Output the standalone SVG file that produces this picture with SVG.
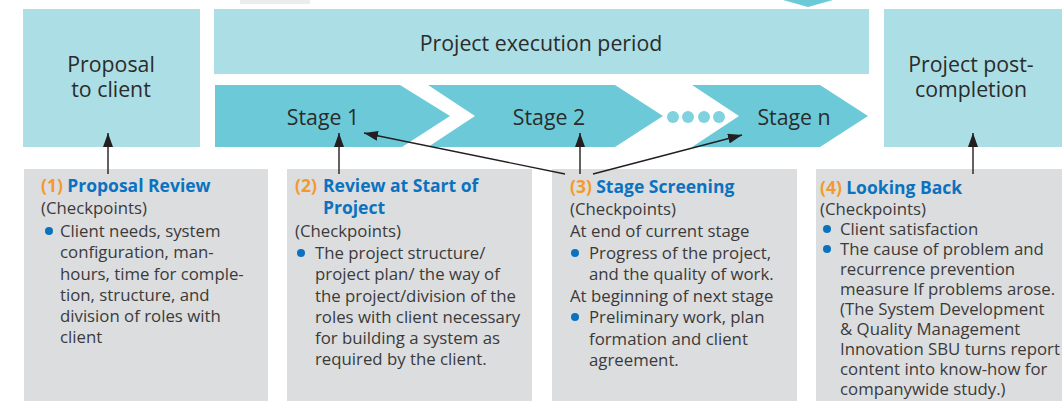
<svg xmlns="http://www.w3.org/2000/svg" width="1062" height="401" viewBox="0 0 1062 401">
<style>
.lb{fill:#acdee5}
.st{fill:#6ccad8}
.gb{fill:#dcdddf}
.t{font-family:"Open Sans","Noto Sans",sans-serif;fill:#2b2b2b}
.big{font-size:21.3px}
.sm{font-size:16.8px;fill:#3a3a3a}
.hd{font-weight:bold;fill:#0b72c0;font-size:17.5px}
.num{font-weight:bold;fill:#f39a2e;font-size:17.5px}
.bul{fill:#0b72c0}
.ln{stroke:#231f20;stroke-width:1.4;fill:none}
</style>
<defs>
<marker id="ah2" viewBox="0 0 14 10" refX="14" refY="5" markerWidth="14" markerHeight="10" markerUnits="userSpaceOnUse" orient="auto">
<path d="M0,0 L14,5 L0,10 Z" fill="#231f20"/>
</marker>
</defs>
<rect x="0" y="0" width="1062" height="401" fill="#ffffff"/>
<rect x="240" y="0" width="70" height="4" fill="#ececec"/>
<path d="M783,0 L833,0 L808,7 Z" fill="#6ccad8"/>

<g id="proposal">
<rect class="lb" x="23" y="9" width="177" height="138"/>
<text class="t big" x="111" y="72" text-anchor="middle">Proposal</text>
<text class="t big" x="111" y="97" text-anchor="middle">to client</text>
</g>
<g id="execution">
<rect class="lb" x="214" y="9" width="655" height="65"/>
<text class="t big" x="541" y="51" text-anchor="middle">Project execution period</text>
</g>
<g id="stage1">
<path class="st" d="M215,85 L400,85 L450,116 L402,147 L215,147 Z"/>
<text class="t big" x="323" y="125" text-anchor="middle">Stage 1</text>
</g>
<g id="stage2">
<path class="st" d="M428,85 L615,85 L663,116 L615,147 L428,147 L475,116 Z"/>
<text class="t big" x="549" y="125" text-anchor="middle">Stage 2</text>
</g>
<g id="dots" fill="#7fd2de">
<circle cx="673" cy="117" r="6"/>
<circle cx="688" cy="117" r="6"/>
<circle cx="704" cy="117" r="6"/>
<circle cx="719" cy="117" r="6"/>
</g>
<g id="stagen">
<path class="st" d="M692,85 L820,85 L868,116 L820,147 L692,147 L739,116 Z"/>
<text class="t big" x="794" y="125" text-anchor="middle">Stage n</text>
</g>
<g id="postcompletion">
<rect class="lb" x="884" y="9" width="178" height="138"/>
<text class="t big" x="971" y="72" text-anchor="middle">Project post-</text>
<text class="t big" x="971" y="97" text-anchor="middle">completion</text>
</g>

<g id="box1">
<rect class="gb" x="24" y="169" width="244" height="232"/>
<text class="t sm" x="41" y="192"><tspan class="num">(1)</tspan> <tspan class="hd">Proposal Review</tspan></text>
<text class="t sm" x="41" y="214">(Checkpoints)</text>
<circle class="bul" cx="49" cy="231" r="4"/>
<text class="t sm" x="60" y="237">Client needs, system</text>
<text class="t sm" x="60" y="258">configuration, man-</text>
<text class="t sm" x="60" y="280">hours, time for comple-</text>
<text class="t sm" x="60" y="301">tion, structure, and</text>
<text class="t sm" x="60" y="322">division of roles with</text>
<text class="t sm" x="60" y="343">client</text>
</g>
<g id="box2">
<rect class="gb" x="287" y="169" width="245" height="232"/>
<text class="t sm" x="295" y="192"><tspan class="num">(2)</tspan></text>
<text class="t sm hd" x="323" y="192">Review at Start of</text>
<text class="t sm hd" x="323" y="214">Project</text>
<text class="t sm" x="295" y="237">(Checkpoints)</text>
<circle class="bul" cx="301" cy="253" r="4"/>
<text class="t sm" x="315" y="259">The project structure/</text>
<text class="t sm" x="315" y="280">project plan/ the way of</text>
<text class="t sm" x="315" y="302">the project/division of the</text>
<text class="t sm" x="315" y="323">roles with client necessary</text>
<text class="t sm" x="315" y="344">for building a system as</text>
<text class="t sm" x="315" y="365">required by the client.</text>
</g>
<g id="box3">
<rect class="gb" x="552" y="169" width="245" height="232"/>
<text class="t sm" x="570" y="193"><tspan class="num">(3)</tspan> <tspan class="hd">Stage Screening</tspan></text>
<text class="t sm" x="570" y="215">(Checkpoints)</text>
<text class="t sm" x="570" y="237">At end of current stage</text>
<circle class="bul" cx="575" cy="253" r="4"/>
<text class="t sm" x="589" y="259">Progress of the project,</text>
<text class="t sm" x="589" y="280">and the quality of work.</text>
<text class="t sm" x="570" y="302">At beginning of next stage</text>
<circle class="bul" cx="575" cy="317" r="4"/>
<text class="t sm" x="589" y="323">Preliminary work, plan</text>
<text class="t sm" x="589" y="345">formation and client</text>
<text class="t sm" x="589" y="366">agreement.</text>
</g>
<g id="box4">
<rect class="gb" x="816" y="169" width="246" height="232"/>
<text class="t sm" x="820" y="194"><tspan class="num">(4)</tspan> <tspan class="hd">Looking Back</tspan></text>
<text class="t sm" x="820" y="215">(Checkpoints)</text>
<circle class="bul" cx="827" cy="229" r="4"/>
<text class="t sm" x="840" y="235">Client satisfaction</text>
<circle class="bul" cx="827" cy="249" r="4"/>
<text class="t sm" x="840" y="255">The cause of problem and</text>
<text class="t sm" x="840" y="275">recurrence prevention</text>
<text class="t sm" x="840" y="295">measure If problems arose.</text>
<text class="t sm" x="840" y="315">(The System Development</text>
<text class="t sm" x="840" y="335">&amp; Quality Management</text>
<text class="t sm" x="840" y="355">Innovation SBU turns report</text>
<text class="t sm" x="840" y="375">content into know-how for</text>
<text class="t sm" x="840" y="395">companywide study.)</text>
</g>

<g id="connectors">
<line class="ln" x1="108" y1="174" x2="108" y2="133" marker-end="url(#ah2)"/>
<line class="ln" x1="339" y1="174" x2="339" y2="133" marker-end="url(#ah2)"/>
<line class="ln" x1="580" y1="174" x2="580" y2="133" marker-end="url(#ah2)"/>
<line class="ln" x1="565" y1="174" x2="364" y2="133" marker-end="url(#ah2)"/>
<line class="ln" x1="593" y1="174" x2="742" y2="135" marker-end="url(#ah2)"/>
<line class="ln" x1="973" y1="174" x2="973" y2="133" marker-end="url(#ah2)"/>
</g>
</svg>
